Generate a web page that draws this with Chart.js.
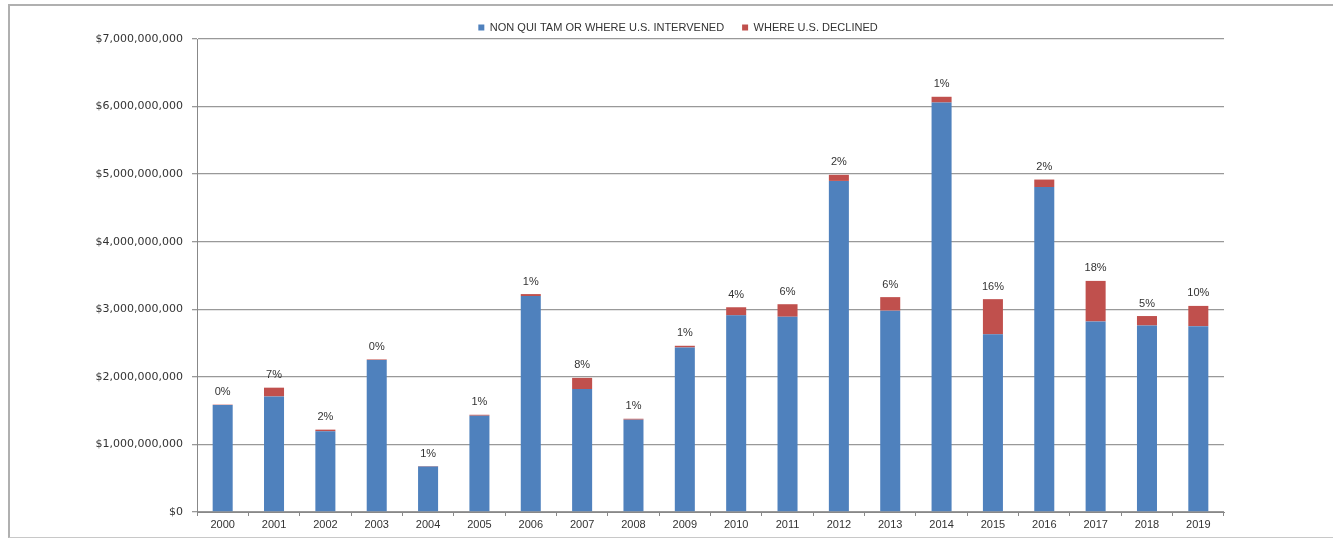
<!DOCTYPE html>
<html>
<head>
<meta charset="utf-8">
<script src="https://cdn.jsdelivr.net/npm/chart.js@4.4.1/dist/chart.umd.min.js"></script>
<style>
  html, body { margin: 0; padding: 0; background: #fff; }
  body { width: 1333px; height: 538px; position: relative; overflow: hidden; }
  #frame {
    position: absolute; left: 8px; top: 4px; width: 1330px; height: 531px;
    border-top: 2px solid #b0b0b0; border-left: 2px solid #b0b0b0; border-bottom: 1px solid #c8c8c8;
  }
  #wrap { position: absolute; left: 0; top: 0; width: 1333px; height: 538px; }
</style>
</head>
<body>
<div id="frame"></div>
<div id="wrap"><canvas id="myChart" width="1333" height="538"></canvas></div>
<script>
// chart data (dollars)
const years = ["2000", "2001", "2002", "2003", "2004", "2005", "2006", "2007", "2008", "2009",
  "2010", "2011", "2012", "2013", "2014", "2015", "2016", "2017", "2018", "2019"];

const intervened = [1585e6, 1710e6, 1195e6, 2250e6, 673e6, 1425e6, 3195e6, 1820e6, 1366e6, 2435e6,
  2910e6, 2890e6, 4900e6, 2980e6, 6060e6, 2630e6, 4810e6, 2820e6, 2760e6, 2750e6];

const declined = [5e6, 130e6, 24e6, 8e6, 7e6, 14e6, 30e6, 165e6, 14e6, 25e6,
  120e6, 185e6, 90e6, 200e6, 85e6, 520e6, 110e6, 600e6, 140e6, 300e6];

const pctLabels = ["0%", "7%", "2%", "0%", "1%", "1%", "1%", "8%", "1%", "1%",
  "4%", "6%", "2%", "6%", "1%", "16%", "2%", "18%", "5%", "10%"];

const yTicks = [0, 1e9, 2e9, 3e9, 4e9, 5e9, 6e9, 7e9];

// writes the percent share above each stacked bar
const pctPlugin = {
  id: "pctLabels",
  afterDatasetsDraw(chart) {
    const c = chart.ctx;
    const meta = chart.getDatasetMeta(1);
    c.save();
    c.font = "11px 'Liberation Sans'";
    c.fillStyle = "#333";
    c.textAlign = "center";
    c.textBaseline = "bottom";
    meta.data.forEach((bar, i) => {
      c.fillText(pctLabels[i], bar.x, bar.y - 7);
    });
    c.restore();
  },
};

// nudge the legend so it sits centred over the whole frame, like the original
const legendShift = {
  id: "legendShift",
  afterLayout(chart) {
    const lg = chart.legend;
    lg.left += 66;
    lg.right += 66;
    lg.top += 4;
    lg.bottom += 4;
  },
};

const ctx = document.getElementById("myChart");

new Chart(ctx, {
  type: "bar",
  data: {
    labels: years,
    datasets: [
      {
        label: "NON QUI TAM OR WHERE U.S. INTERVENED",
        data: intervened,
        backgroundColor: "#4f81bd",
        barPercentage: 0.78,
        categoryPercentage: 0.5,
      },
      {
        label: "WHERE U.S. DECLINED",
        data: declined,
        backgroundColor: "#c0504d",
        barPercentage: 0.78,
        categoryPercentage: 0.5,
      },
    ],
  },
  options: {
    responsive: false,
    animation: false,
    maintainAspectRatio: false,
    layout: { padding: { top: 0, right: 109, bottom: 0, left: 0 } },
    plugins: {
      tooltip: { enabled: false },
      legend: {
        position: "top",
        labels: {
          boxWidth: 6,
          boxHeight: 6,
          padding: 18,
          color: "#333",
          font: { family: "'Liberation Sans'", size: 11 },
        },
      },
    },
    scales: {
      x: {
        stacked: true,
        afterFit: (s) => { s.height = 26; },
        border: { color: "#888", width: 1 },
        grid: { display: true, drawOnChartArea: false, offset: true, tickLength: 4, color: "#888" },
        ticks: { color: "#333", padding: 2, font: { family: "'Liberation Sans'", size: 11 } },
      },
      y: {
        stacked: true,
        min: 0,
        max: 7e9,
        afterFit: (s) => { s.width = 197; },
        afterBuildTicks: (s) => { s.ticks = yTicks.map((v) => ({ value: v })); },
        border: { color: "#888", width: 1 },
        grid: { color: "#999", lineWidth: 1.3, tickLength: 5 },
        ticks: {
          color: "#333",
          padding: 9,
          font: { family: "'DejaVu Sans'", size: 11 },
          callback: (v) => "$" + v.toLocaleString("en-US"),
        },
      },
    },
  },
  plugins: [pctPlugin, legendShift],
});
</script>
</body>
</html>
